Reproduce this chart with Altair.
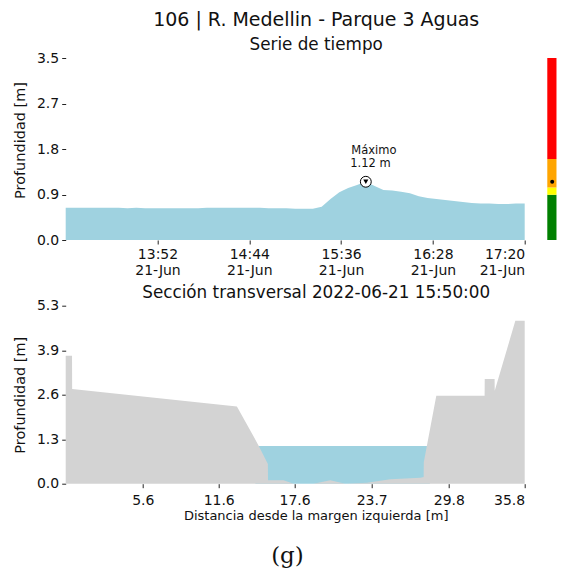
import altair as alt
import pandas as pd

# ---------------- data ----------------
station_title = "106 | R. Medellin - Parque 3 Aguas"
series_title = "Serie de tiempo"
section_title = "Sección transversal 2022-06-21 15:50:00"
caption = "(g)"
date = "2022-06-21"

times = ["13:00", "13:05", "13:10", "13:15", "13:20", "13:25", "13:30", "13:35", "13:40", "13:45",
         "13:50", "13:55", "14:00", "14:05", "14:10", "14:15", "14:20", "14:25", "14:30", "14:35",
         "14:40", "14:45", "14:50", "14:55", "15:00", "15:05", "15:10", "15:15", "15:20", "15:25",
         "15:30", "15:35", "15:40", "15:45", "15:50", "15:55", "16:00", "16:05", "16:10", "16:15",
         "16:20", "16:25", "16:30", "16:35", "16:40", "16:45", "16:50", "16:55", "17:00", "17:05",
         "17:10", "17:15", "17:20"]
depths = [0.62, 0.62, 0.62, 0.62, 0.62, 0.62, 0.62, 0.61, 0.62, 0.61,
          0.61, 0.61, 0.61, 0.61, 0.61, 0.61, 0.62, 0.62, 0.62, 0.62,
          0.62, 0.62, 0.62, 0.61, 0.61, 0.61, 0.60, 0.60, 0.60, 0.64,
          0.79, 0.92, 1.00, 1.06, 1.12, 1.04, 0.96, 0.95, 0.93, 0.90,
          0.84, 0.81, 0.79, 0.77, 0.75, 0.73, 0.71, 0.70, 0.70, 0.69,
          0.69, 0.70, 0.70]

time_ticks = ["13:52", "14:44", "15:36", "16:28", "17:20"]
ts_y_ticks = [0.0, 0.875, 1.75, 2.625, 3.5]
ts_y_labels = ["0.0", "0.9", "1.8", "2.7", "3.5"]

# alert bands (m)
band_lo = [0.0, 0.87, 1.01, 1.56]
band_hi = [0.87, 1.01, 1.56, 3.5]
band_colors = ["#008000", "#ffff00", "#ffa500", "#ff0000"]

# cross section (distance m, bed elevation m)
sec_x = [-0.5, 0.0, 0.01, 13.04, 14.75, 15.49, 15.5, 16.73, 17.52, 18.05, 19.1, 20.42, 21.61,
         23.33, 25.17, 27.55, 27.81, 27.82, 28.81, 32.63, 32.64, 33.42, 33.43, 35.06, 35.8]
sec_h = [3.81, 3.81, 2.82, 2.30, 1.14, 0.59, 0.10, 0.10, 0.0, 0.0, 0.0, 0.10, 0.0,
         0.03, 0.13, 0.18, 0.20, 0.64, 2.62, 2.62, 3.12, 3.12, 2.77, 4.85, 4.85]
water_x = [14.5, 28.3]
sec_x_ticks = [5.6, 11.6, 17.6, 23.7, 29.8, 35.8]
sec_y_ticks = [0.0, 1.325, 2.65, 3.975, 5.3]
sec_y_labels = ["0.0", "1.3", "2.6", "3.9", "5.3"]

# ---------------- helpers ----------------
FONT = "DejaVu Sans"
BLUE = "#9fd2e0"
GRAY = "#d3d3d3"


def ms(hhmm):
    return int(pd.Timestamp(f"{date}T{hhmm}:00Z").value // 10**6)


def label_expr(vals, labels):
    expr = f"'{labels[-1]}'"
    for v, l in reversed(list(zip(vals[:-1], labels[:-1]))):
        expr = f"datum.value <= {v + 1e-6} ? '{l}' : ({expr})"
    return expr


ts = pd.DataFrame({"t": [f"{date}T{t}:00Z" for t in times], "v": depths})
imax = int(ts["v"].idxmax())
peak = pd.DataFrame({"t": [ts["t"][imax]], "v": [ts["v"][imax]],
                     "l1": ["Máximo"], "l2": [f"{ts['v'][imax]:.2f} m"]})
bands = pd.DataFrame({"lo": band_lo, "hi": band_hi, "c": band_colors})
sec = pd.DataFrame({"x": sec_x, "h": sec_h})
water = pd.DataFrame({"x": water_x, "h": [float(ts["v"][imax])] * len(water_x)})

W = 459
xs = alt.X("t:T", title=None,
           scale=alt.Scale(type="utc", domain=[ms(times[0]), ms(times[-1])], nice=False),
           axis=alt.Axis(values=[ms(t) for t in time_ticks],
                         labelExpr="[utcFormat(datum.value, '%H:%M'), utcFormat(datum.value, '%d-%b')]",
                         labelLineHeight=16.5))
ys = alt.Y("v:Q", title="Profundidad [m]",
           scale=alt.Scale(domain=[0, 3.5], nice=False, zero=True),
           axis=alt.Axis(values=ts_y_ticks, labelExpr=label_expr(ts_y_ticks, ts_y_labels),
                         titleY=82))

area = alt.Chart(ts).mark_area(color=BLUE, opacity=1).encode(x=xs, y=ys)
bar = alt.Chart(bands).mark_rect().encode(
    x=alt.value(481.6), x2=alt.value(490.8),
    y=alt.Y("lo:Q"), y2="hi:Q", color=alt.Color("c:N", scale=None))
dot = alt.Chart(peak).mark_point(filled=True, color="black", size=16, opacity=1).encode(
    x=alt.value(486.5), y="v:Q")
ring = alt.Chart(peak).mark_point(shape="circle", filled=True, fill="white", stroke="black",
                                  strokeWidth=1, size=118, opacity=1).encode(x="t:T", y="v:Q")
tri = alt.Chart(peak).mark_point(shape="triangle-down", filled=True, color="black",
                                 size=26, opacity=1).encode(x="t:T", y="v:Q")
t1 = alt.Chart(peak).mark_text(align="left", baseline="alphabetic", dx=-14.5, dy=-27.7,
                               fontSize=11.5, font=FONT, color="#111").encode(x="t:T", y="v:Q", text="l1:N")
t2 = alt.Chart(peak).mark_text(align="left", baseline="alphabetic", dx=-15.5, dy=-14.4,
                               fontSize=11.5, font=FONT, color="#111").encode(x="t:T", y="v:Q", text="l2:N")

top = alt.layer(area, bar, dot, ring, tri, t1, t2).properties(
    width=W, height=182,
    title=alt.TitleParams(station_title, subtitle=series_title, fontSize=19, subtitleFontSize=16.8,
                          font=FONT, subtitleFont=FONT, fontWeight="normal", color="#111",
                          subtitleColor="#111", anchor="middle", frame="group", dx=21,
                          subtitlePadding=6.6, offset=-2.7))

sx = alt.X("x:Q", title="Distancia desde la margen izquierda [m]",
           scale=alt.Scale(domain=[-0.5, 35.8], nice=False, zero=False),
           axis=alt.Axis(values=sec_x_ticks, format=".1f", titleFontSize=13, titleX=250,
                         labelPadding=5.5, titlePadding=2.2))
sy = alt.Y("h:Q", title="Profundidad [m]",
           scale=alt.Scale(domain=[0, 5.3], nice=False),
           axis=alt.Axis(values=sec_y_ticks, labelExpr=label_expr(sec_y_ticks, sec_y_labels)))

water_area = alt.Chart(water).mark_area(color=BLUE, opacity=1).encode(x=sx, y=sy, y2=alt.datum(0))
ground = alt.Chart(sec).mark_area(color=GRAY, opacity=1).encode(x=sx, y=sy, y2=alt.datum(0))

bottom = alt.layer(water_area, ground).properties(
    width=W, height=178,
    title=alt.TitleParams(section_title, fontSize=16.8, font=FONT, fontWeight="normal",
                          color="#111", anchor="middle", frame="group", dx=21, offset=-3))

chart = alt.vconcat(top, bottom, spacing=6.7).properties(
    title=alt.TitleParams(caption, orient="bottom", font="DejaVu Serif", fontSize=23,
                          fontWeight="normal", color="#111", anchor="middle", offset=23, dx=3),
    padding={"left": 3.7, "top": 3, "right": 0, "bottom": 0},
).configure_view(stroke=None).configure_axis(
    domain=False, grid=False, tickSize=4, tickColor="#222", labelPadding=3,
    labelFont=FONT, labelFontSize=14, labelColor="#111",
    titleFont=FONT, titleFontSize=14.5, titleFontWeight="normal", titleColor="#111",
    titlePadding=9,
)

chart.save("out.html", embed_options={"renderer": "svg", "actions": False})
